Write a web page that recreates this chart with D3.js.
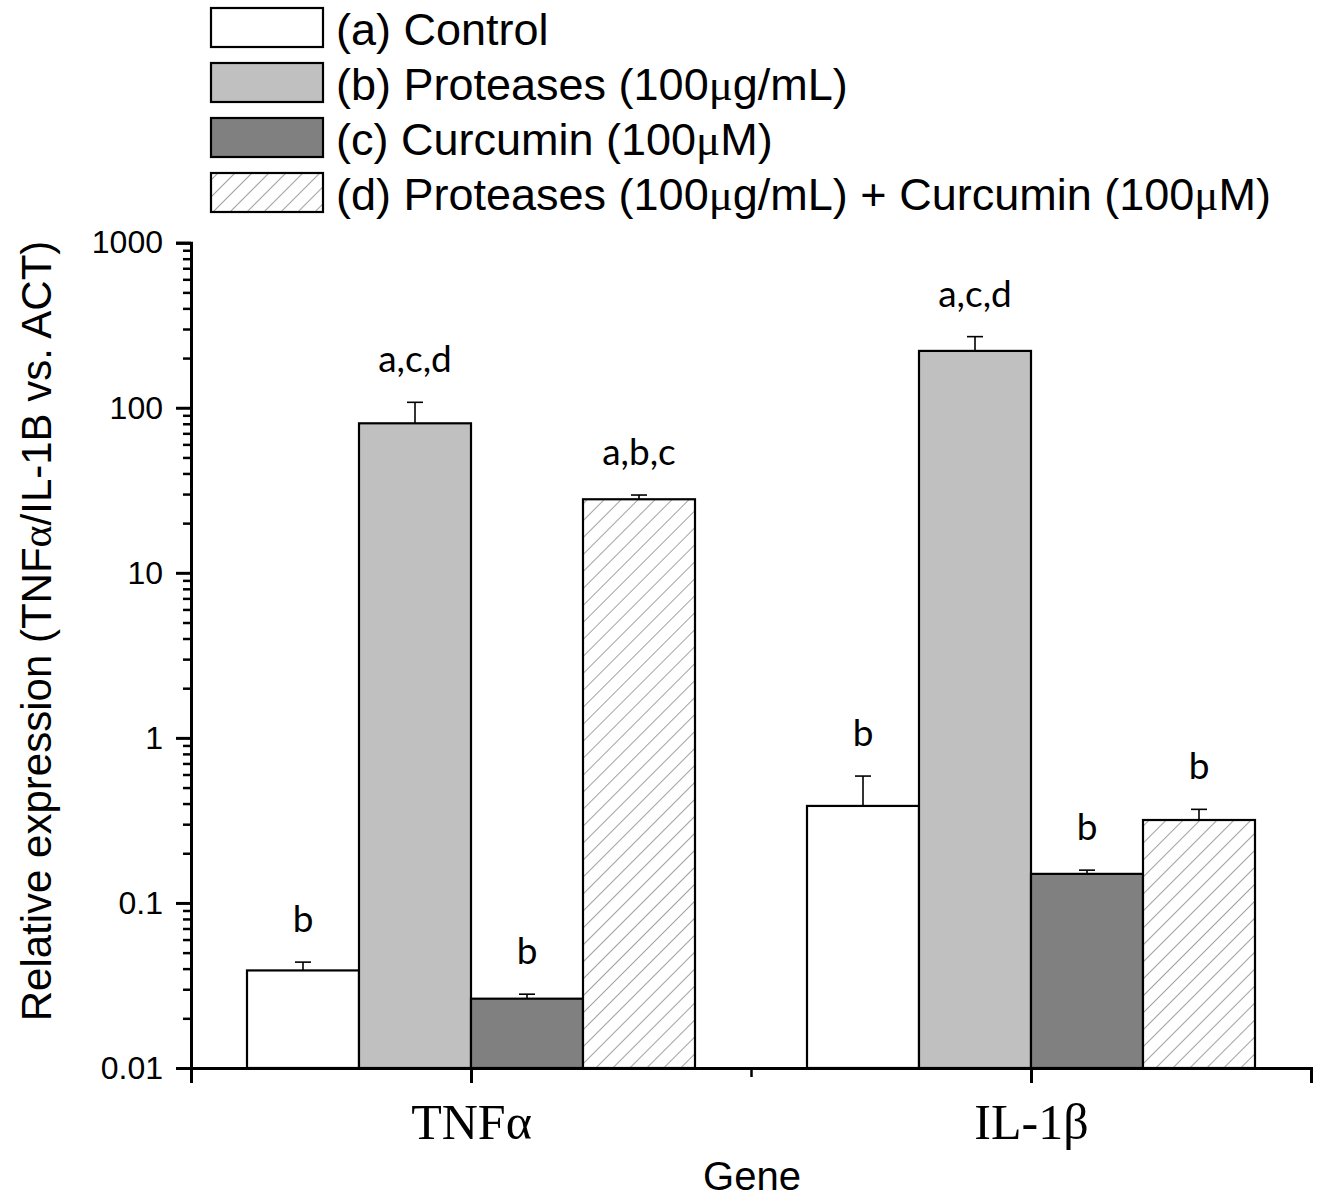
<!DOCTYPE html>
<html>
<head>
<meta charset="utf-8">
<script src="https://cdn.jsdelivr.net/npm/d3@7"></script>
<style>
  body { margin: 0; background: #fff; }
  svg { display: block; }
</style>
</head>
<body>
<div id="grafico"></div>
<script>
// categorias y series (escala log)
const genes = ["TNFα", "IL-1β"];
const treatments = [
  "(a) Control",
  "(b) Proteases (100μg/mL)",
  "(c) Curcumin (100μM)",
  "(d) Proteases (100μg/mL) + Curcumin (100μM)"
];
const controlVals = [0.039, 0.387];
const proteaseVals = [80.5, 221];
const curcuminVals = [0.0263, 0.150];
const comboVals = [27.9, 0.318];

const controlErr = [0.0048, 0.20];
const proteaseErr = [27.4, 48.7];
const curcuminErr = [0.0017, 0.008];
const comboErr = [1.7, 0.051];

const controlLetters = ["b", "b"];
const proteaseLetters = ["a,c,d", "a,c,d"];
const curcuminLetters = ["b", "b"];
const comboLetters = ["a,b,c", "b"];

const yMajorTicks = [0.01, 0.1, 1, 10, 100, 1000];
const yTickLabels = ["0.01", "0.1", "1", "10", "100", "1000"];

const fills = ["#ffffff", "#c0c0c0", "#808080", "url(#hatch)"];

const series = [
  { vals: controlVals, err: controlErr, letters: controlLetters },
  { vals: proteaseVals, err: proteaseErr, letters: proteaseLetters },
  { vals: curcuminVals, err: curcuminErr, letters: curcuminLetters },
  { vals: comboVals, err: comboErr, letters: comboLetters }
];

const W = 1317, H = 1197;
const svg = d3.select("#grafico").append("svg")
  .attr("width", W).attr("height", H);

const defs = svg.append("defs");
const pat = defs.append("pattern")
  .attr("id", "hatch")
  .attr("patternUnits", "userSpaceOnUse")
  .attr("width", 12).attr("height", 12)
  .attr("patternTransform", "rotate(45)");
pat.append("rect").attr("width", 12).attr("height", 12).attr("fill", "#fff");
pat.append("line")
  .attr("x1", 0).attr("y1", 0).attr("x2", 0).attr("y2", 12)
  .attr("stroke", "#8a8a8a").attr("stroke-width", 1.6);

// escalas
const x = d3.scaleLinear().domain([0.5, 2.5]).range([191, 1311]);
const y = d3.scaleLog().domain([0.01, 1000]).range([1068, 242.7]);
const barW = 0.2;

// barras
const rows = [];
series.forEach((s, i) => {
  s.vals.forEach((v, g) => {
    rows.push({ i, g, v, e: s.err[g], letter: s.letters[g] });
  });
});

function g0(d) { return d.g + 1; }
const barX = d => x(g0(d) + (d.i - 2) * barW);
const barMid = d => x(g0(d) + (d.i - 2) * barW + barW / 2);

svg.append("g").selectAll("rect")
  .data(rows)
  .enter().append("rect")
  .attr("x", barX)
  .attr("y", d => y(d.v))
  .attr("width", x(barW) - x(0))
  .attr("height", d => y(0.01) - y(d.v))
  .attr("fill", d => fills[d.i])
  .attr("stroke", "#000")
  .attr("stroke-width", 2.2);

// barras de error (solo superior)
const cap = 8;
const eb = svg.append("g").attr("stroke", "#000").attr("stroke-width", 1.6);
rows.forEach(d => {
  const cx = barMid(d);
  eb.append("line").attr("x1", cx).attr("x2", cx)
    .attr("y1", y(d.v)).attr("y2", y(d.v + d.e));
  eb.append("line").attr("x1", cx - cap).attr("x2", cx + cap)
    .attr("y1", y(d.v + d.e)).attr("y2", y(d.v + d.e));
});

// letras de significancia
svg.append("g").selectAll("text")
  .data(rows)
  .enter().append("text")
  .attr("x", barMid)
  .attr("y", d => y(d.v + d.e) - 30)
  .attr("text-anchor", "middle")
  .style("font-family", "Lato, 'Open Sans', sans-serif")
  .style("font-size", "37px")
  .text(d => d.letter);

// eje Y
const yAxis = svg.append("g")
  .attr("transform", "translate(191,0)")
  .call(d3.axisLeft(y).tickValues(yMajorTicks).tickSize(15).tickPadding(13)
    .tickFormat((d, i) => yTickLabels[i]));
yAxis.select(".domain").attr("stroke-width", 3);
yAxis.selectAll(".tick line").attr("stroke-width", 3);
yAxis.selectAll("text")
  .style("font-family", "Arial, 'Liberation Sans', sans-serif")
  .style("font-size", "32px");

const yMinor = [];
yMajorTicks.slice(0, -1).forEach(t => { for (let k = 2; k <= 9; k++) yMinor.push(t * k); });
const yMinorAxis = svg.append("g")
  .attr("transform", "translate(191,0)")
  .call(d3.axisLeft(y).tickValues(yMinor).tickSize(8).tickFormat(""));
yMinorAxis.select(".domain").remove();
yMinorAxis.selectAll(".tick line").attr("stroke-width", 2.5);

// eje X
const xAxis = svg.append("g")
  .attr("transform", "translate(0,1068)")
  .call(d3.axisBottom(x).tickValues([1, 2]).tickSize(15).tickFormat((d, i) => genes[i]));
xAxis.select(".domain").attr("stroke-width", 3);
xAxis.selectAll(".tick line").attr("stroke-width", 3);
xAxis.selectAll("text")
  .attr("y", 71).attr("dy", 0)
  .style("font-family", "'Liberation Serif', 'Times New Roman', serif")
  .style("font-size", "50px");

const xMinorAxis = svg.append("g")
  .attr("transform", "translate(0,1068)")
  .call(d3.axisBottom(x).tickValues([0.5, 1.5, 2.5]).tickSize(9).tickFormat(""));
xMinorAxis.select(".domain").remove();
xMinorAxis.selectAll(".tick line").attr("stroke-width", 2.5);

// titulos de ejes
svg.append("text")
  .attr("x", 752).attr("y", 1190)
  .attr("text-anchor", "middle")
  .style("font-family", "Arial, 'Liberation Sans', sans-serif")
  .style("font-size", "40px")
  .text("Gene");

const yt = svg.append("text")
  .attr("transform", "translate(51,631) rotate(-90)")
  .attr("text-anchor", "middle")
  .style("font-family", "Arial, 'Liberation Sans', sans-serif")
  .style("font-size", "42px");
yt.append("tspan").text("Relative expression (TNF");
yt.append("tspan").style("font-family", "'Liberation Serif', serif").text("α");
yt.append("tspan").text("/IL-1B vs. ACT)");

// leyenda
const legend = svg.append("g");
treatments.forEach((t, i) => {
  const top = 8 + i * 55;
  legend.append("rect")
    .attr("x", 211).attr("y", top)
    .attr("width", 112).attr("height", 39)
    .attr("fill", fills[i])
    .attr("stroke", "#000").attr("stroke-width", 2.2);
  const txt = legend.append("text")
    .attr("x", 336).attr("y", top + 37)
    .style("font-family", "Arial, 'Liberation Sans', sans-serif")
    .style("font-size", "45px");
  t.split(/(μ)/).forEach(part => {
    const ts = txt.append("tspan").text(part);
    if (part === "μ") ts.style("font-family", "'Liberation Serif', serif");
  });
});
</script>
</body>
</html>
